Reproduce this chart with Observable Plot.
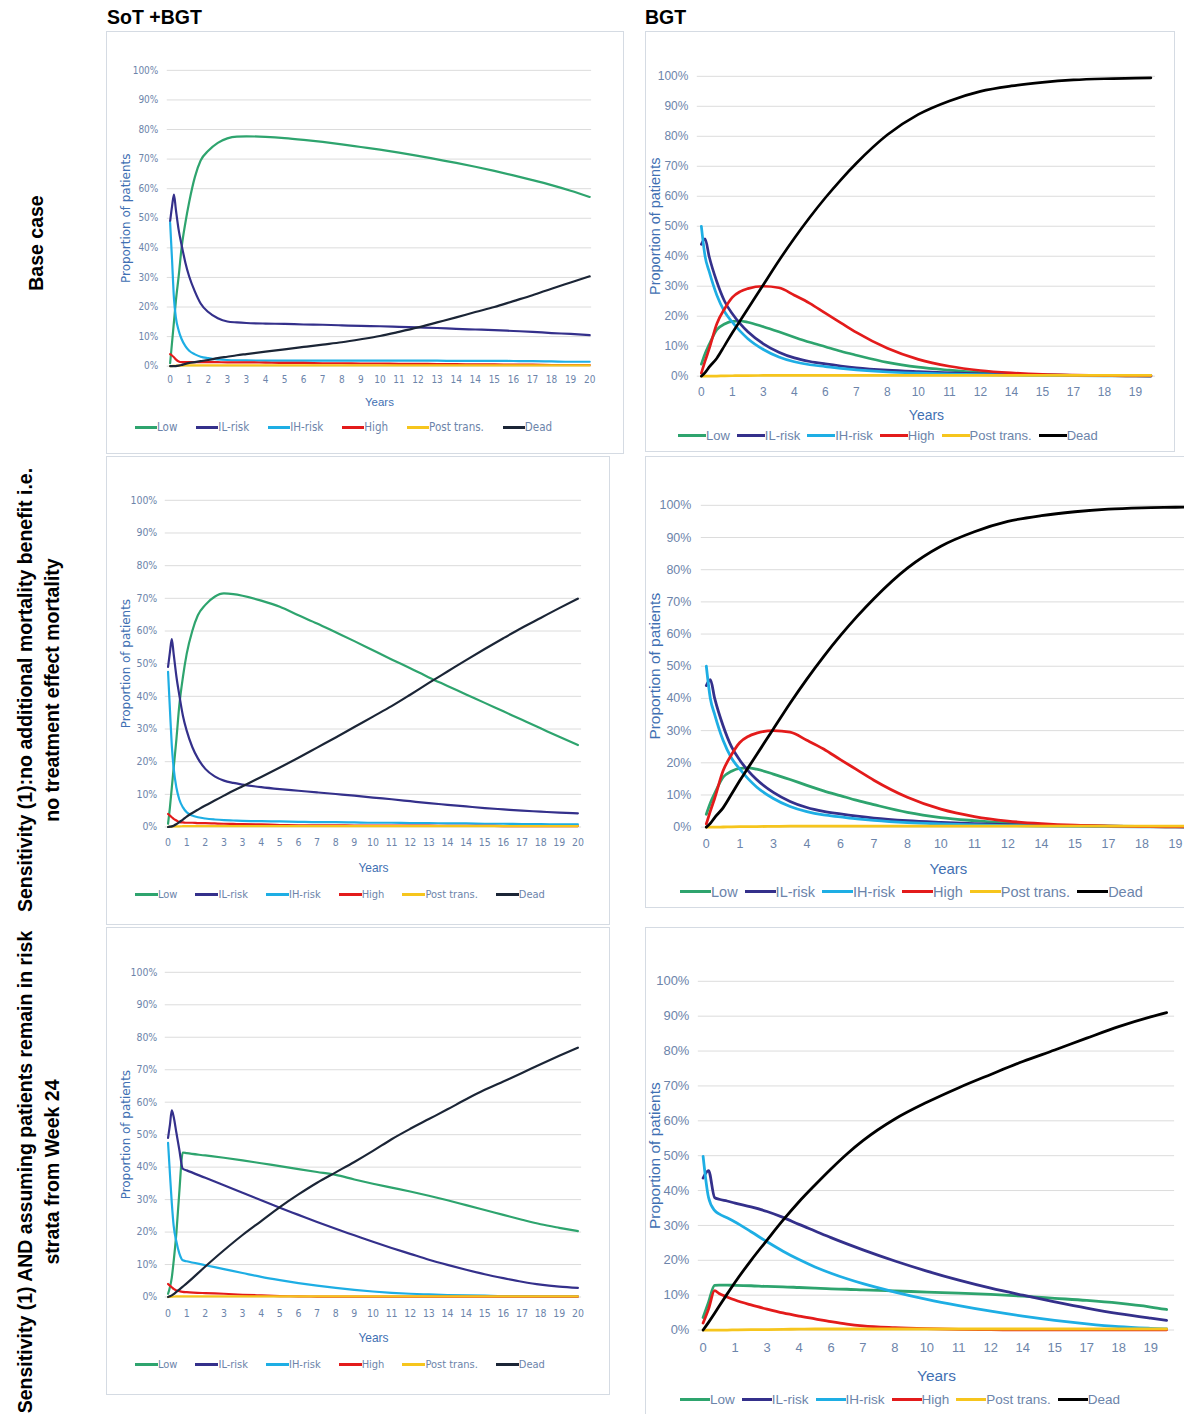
<!DOCTYPE html>
<html>
<head>
<meta charset="utf-8">
<script src="https://cdn.jsdelivr.net/npm/d3@7"></script>
<script src="https://cdn.jsdelivr.net/npm/@observablehq/plot@0.6"></script>
<style>
  html, body { margin: 0; padding: 0; background: #fff; }
  body { width: 1184px; height: 1414px; position: relative; overflow: hidden; font-family: "Liberation Sans", Arial, sans-serif; }
  .box { position: absolute; border: 1px solid #d5dbe3; background: #fff; box-sizing: border-box; }
  .box svg { position: absolute; left: -1px; top: -1px; overflow: visible; }
  .hdr { position: absolute; font-weight: bold; font-size: 19.5px; color: #000; white-space: nowrap; }
  .row { position: absolute; font-weight: bold; font-size: 19.5px; line-height: 27px; color: #000; text-align: center; white-space: nowrap; transform: translate(-50%, -50%) rotate(-90deg); }
  .legend { position: absolute; display: flex; align-items: center; white-space: nowrap; }
  .legend .it { display: flex; align-items: center; }
  .legend .sw { display: inline-block; height: 3px; }
</style>
</head>
<body>
<script>
// ---------------- data ----------------
const seriesNames = ["Low", "IL-risk", "IH-risk", "High", "Post trans.", "Dead"];
const yTicks = [0, 10, 20, 30, 40, 50, 60, 70, 80, 90, 100];
const sotTickLabels = ["0","1","2","3","3","4","5","6","7","8","9","10","11","12","13","14","14","15","16","17","18","19","20"];
const bgtTickLabels = ["0","1","3","4","6","7","8","10","11","12","14","15","17","18","19"];

// x positions are in tick-label slots of the category axis
// --- Base case, SoT + BGT ---
const baseSotX    = [0,0.1,0.2,0.3,0.45,0.6,0.8,1,1.3,1.6,2,2.5,3,3.5,4,5,6,7,8,9,10,11,12,13,14,15,16,17,18,19,20,21,22];
const baseSotLow  = [1,8,15,22,30.5,40,48.5,55.5,64,69.5,72.8,75.5,77,77.6,77.7,77.5,77.1,76.5,75.8,75,74.1,73.2,72.2,71.1,69.9,68.7,67.4,66,64.5,62.9,61.2,59.3,57.2];
const baseSotIL   = [49,54,58,53,46,41,35,30.3,25.2,21.2,18.3,16.2,15.1,14.8,14.6,14.4,14.3,14.1,14,13.8,13.6,13.5,13.3,13.1,12.9,12.6,12.4,12.2,11.9,11.6,11.2,10.9,10.5];
const baseSotIH   = [48.5,36,23,16.5,12,9.2,6.8,5.2,4,3.2,2.7,2.3,2.1,2,1.95,1.9,1.9,1.9,1.9,1.9,1.9,1.9,1.9,1.85,1.85,1.8,1.8,1.8,1.75,1.7,1.6,1.5,1.5];
const baseSotHigh = [4.1,3.6,3,2.3,1.6,1.4,1.4,1.4,1.4,1.4,1.4,1.35,1.3,1.3,1.3,1.2,1.1,1.1,1,1,0.9,0.9,0.8,0.8,0.7,0.7,0.6,0.6,0.5,0.5,0.4,0.4,0.4];
const baseSotPost = [0,0.05,0.1,0.15,0.2,0.2,0.25,0.3,0.3,0.3,0.3,0.3,0.3,0.3,0.3,0.3,0.3,0.3,0.3,0.3,0.3,0.3,0.3,0.3,0.3,0.3,0.3,0.3,0.3,0.3,0.3,0.3,0.3];
const baseSotDead = [0,0,0,0.05,0.2,0.4,0.8,1.1,1.4,1.7,2.1,2.7,3.2,3.7,4.1,4.9,5.7,6.5,7.3,8.1,9.1,10.2,11.6,13.1,14.8,16.5,18.3,20,22,24,26.2,28.3,30.4];

// --- Sensitivity (1), SoT + BGT ---
const sens1SotX    = [0,0.1,0.2,0.3,0.45,0.6,0.8,1,1.3,1.6,2,2.5,3,3.5,4,5,6,7,8,9,10,11,12,13,14,15,16,17,18,19,20,21,22];
const sens1SotLow  = [1,6,12,18,27,37,46,53,60,64.8,68,70.5,71.5,71.3,70.8,69.3,67.4,64.8,62.3,59.6,56.9,54.1,51.3,48.6,45.8,43.2,40.6,38,35.4,32.8,30.2,27.6,25.1];
const sens1SotIL   = [49,53.5,57.5,53,46,40.5,34,29.5,24.5,21,17.8,15.5,14.2,13.5,13,12.2,11.6,11.1,10.6,10.1,9.6,9,8.5,7.9,7.3,6.8,6.3,5.8,5.4,5,4.7,4.4,4.2];
const sens1SotIH   = [47.5,36,25,18,12,8.5,6,4.5,3.5,3,2.6,2.3,2.1,2,1.9,1.8,1.7,1.6,1.5,1.5,1.4,1.3,1.3,1.2,1.2,1.1,1.1,1,1,0.9,0.9,0.8,0.8];
const sens1SotHigh = [4,3.5,3,2.5,2,1.5,1.4,1.3,1.3,1.2,1.2,1.1,1,0.95,0.9,0.8,0.6,0.55,0.5,0.5,0.45,0.45,0.4,0.4,0.4,0.35,0.35,0.35,0.3,0.3,0.3,0.3,0.3];
const sens1SotPost = [0,0.05,0.1,0.15,0.2,0.2,0.25,0.3,0.3,0.3,0.3,0.3,0.3,0.3,0.3,0.3,0.3,0.3,0.3,0.3,0.3,0.3,0.3,0.3,0.3,0.3,0.3,0.3,0.3,0.3,0.3,0.3,0.3];
const sens1SotDead = [0,0.1,0.2,0.4,0.9,1.5,2.3,3.2,4.3,5.3,6.6,8.1,9.6,11.1,12.5,15.3,18.2,21.2,24.3,27.4,30.6,33.8,37,40.5,44.1,47.6,51.1,54.5,57.8,61,64,67,69.9];

// --- Sensitivity (1) AND remain in strata, SoT + BGT ---
const sens2SotX    = [0,0.1,0.2,0.3,0.45,0.6,0.79,1,2,3,4,5,6,7,8,9,10,11,12,13,14,15,16,17,18,19,20,21,22];
const sens2SotLow  = [1,3,6,11,20,32,44.5,44.3,43.6,42.9,42.1,41.2,40.3,39.4,38.5,37.6,36.2,34.9,33.7,32.5,31.2,29.8,28.3,26.8,25.3,23.8,22.4,21.3,20.3];
const sens2SotIL   = [49,53,57.5,55.5,50.5,45.5,39.5,39,36.7,34.4,32.1,29.8,27.5,25.3,23.1,21,19,17,15.1,13.3,11.5,9.9,8.4,7,5.8,4.7,3.8,3.2,2.8];
const sens2SotIH   = [47.5,38,29,22,17,13.5,11.3,11,9.8,8.6,7.4,6.2,5.2,4.3,3.5,2.8,2.2,1.7,1.3,1,0.8,0.6,0.5,0.4,0.3,0.3,0.2,0.2,0.2];
const sens2SotHigh = [4,3.5,3,2.5,2,1.8,1.6,1.5,1.2,1,0.7,0.5,0.3,0.2,0.15,0.1,0.1,0.1,0.1,0.1,0.1,0.1,0.1,0.1,0.1,0.1,0.1,0.1,0.1];
const sens2SotPost = [0,0.05,0.1,0.15,0.2,0.2,0.2,0.2,0.2,0.2,0.2,0.2,0.2,0.2,0.2,0.2,0.2,0.2,0.2,0.2,0.2,0.2,0.2,0.2,0.2,0.2,0.2,0.2,0.2];
const sens2SotDead = [0,0.2,0.5,0.9,1.6,2.3,3.2,4.2,9.4,14.4,19.1,23.4,27.7,31.6,35.2,38.4,41.6,45,48.6,51.8,54.8,57.8,60.9,63.8,66.4,69,71.7,74.3,76.8];

// --- Base case BGT (Sensitivity (1) BGT shows the same curves) ---
const baseBgtX    = [0,0.12,0.25,0.5,0.75,1,1.25,1.5,2,2.5,3,3.5,4,4.5,5,6,7,8,9,10,11,12,13,14,14.5];
const baseBgtLow  = [4,7.5,10.5,15.5,17.4,18.3,18.4,18,16.5,14.8,13,11.3,9.8,8.3,7,4.6,3,2,1.2,0.7,0.45,0.3,0.2,0.1,0.1];
const baseBgtIL   = [44,45.8,40,31.5,25,20.8,17.5,14.8,10.8,8,6.1,4.9,4.1,3.4,2.8,2,1.5,1.1,0.8,0.55,0.4,0.3,0.2,0.15,0.1];
const baseBgtIH   = [50,40,35,27,21.5,18,15,12.5,8.9,6.4,4.8,3.8,3.2,2.6,2.1,1.4,1,0.7,0.5,0.35,0.25,0.15,0.1,0.1,0.05];
const baseBgtHigh = [1,5,9,17.5,22.5,26.3,28.2,29.2,30,29.5,27,24.3,21,17.8,14.6,9.3,5.6,3.3,1.9,1.1,0.6,0.35,0.2,0.1,0.1];
const baseBgtPost = [0,0,0,0.05,0.1,0.15,0.2,0.2,0.25,0.3,0.3,0.3,0.3,0.3,0.3,0.3,0.3,0.3,0.3,0.3,0.3,0.3,0.3,0.3,0.3];
const baseBgtDead = [0,1.2,3,6,10.2,14.5,18.5,22.5,30.5,38.5,46,53,59.5,65.5,71,80.5,87.3,91.8,95,96.8,98,98.8,99.2,99.4,99.5];

// --- Sensitivity (1) AND remain in strata, BGT ---
const sens2BgtX    = [0,0.17,0.36,0.5,0.75,1,1.5,2,2.5,3,3.5,4,4.5,5,6,7,8,9,10,11,12,13,14,14.5];
const sens2BgtLow  = [3.6,8,12.8,12.9,12.9,12.8,12.7,12.5,12.4,12.2,12,11.8,11.7,11.5,11.2,10.9,10.6,10.2,9.7,9.1,8.5,7.7,6.6,5.9];
const sens2BgtIL   = [43.6,45.7,38,37.5,37,36.4,35.3,34,32.3,30.3,28.4,26.5,24.7,23,19.8,16.9,14.3,12,10,8.1,6.3,4.7,3.4,2.8];
const sens2BgtIH   = [49.8,38,34.3,33.3,32.2,31,28.2,25.3,22.6,20.2,18.1,16.3,14.7,13.3,10.9,8.8,7,5.4,4,2.8,1.8,1,0.5,0.3];
const sens2BgtHigh = [2,6,11.3,10.5,9.5,8.6,7.2,6,4.9,4,3.2,2.4,1.7,1.2,0.7,0.4,0.2,0.1,0.05,0.05,0.05,0.05,0.05,0.05];
const sens2BgtPost = [0,0,0,0,0,0.05,0.1,0.15,0.2,0.25,0.3,0.3,0.3,0.3,0.3,0.3,0.3,0.3,0.3,0.3,0.3,0.3,0.3,0.3];
const sens2BgtDead = [0,2.2,4.8,6.8,10.3,13.7,20,25.8,31.5,36.8,41.6,46.2,50.5,54.3,60.5,65.3,69.5,73.3,77,80.3,83.7,87,89.8,91];

const columnHeaders = ["SoT +BGT", "BGT"];
const rowHeaders = [
  ["Base case"],
  ["Sensitivity (1):no additional mortality benefit i.e.", "no treatment effect mortality"],
  ["Sensitivity (1) AND assuming patients remain in risk", "strata from Week 24"]
];

// ---------------- styles ----------------
const sotColors = ["#2ea46e", "#34308b", "#1eaee4", "#e31b1b", "#f6c51d", "#1b2536"];
const bgtColors = ["#2ea46e", "#34308b", "#1eaee4", "#e31b1b", "#f6c51d", "#000000"];
const tickColor = "#6c84aa";
const titleColor = "#3f70b3";
const narrowFont = '"Liberation Sans Narrow", "DejaVu Sans Condensed", "Liberation Sans", sans-serif';
const wideFont = '"Liberation Sans", Arial, sans-serif';
const dejaFont = '"DejaVu Sans", "Liberation Sans", sans-serif';

const panels = [
  { box: [106, 31, 518, 423], h: 381, mt: 39, mb: 45, ml: 61, mr: 31, xDomain: [-0.15, 22.1],
    x: baseSotX, vals: [baseSotLow, baseSotIL, baseSotIH, baseSotHigh, baseSotPost, baseSotDead],
    labels: sotTickLabels, colors: sotColors, font: narrowFont, tickFs: 10, xtp: 10, ytp: 9,
    titleFs: 11.5, yearsOff: 40, ylabFs: 12, ylabFont: dejaFont, ylabOff: 46, sw: 2.2,
    legend: { x: 135, y: 427, fs: 11.5, sw: 22, gap: 19, font: narrowFont } },
  { box: [645, 31, 530, 421], h: 394, mt: 45, mb: 48, ml: 52, mr: 18, xDomain: [-0.13, 14.65],
    x: baseBgtX, vals: [baseBgtLow, baseBgtIL, baseBgtIH, baseBgtHigh, baseBgtPost, baseBgtDead],
    labels: bgtTickLabels, colors: bgtColors, font: wideFont, tickFs: 12, xtp: 11, ytp: 9,
    titleFs: 14, yearsOff: 44, ylabFs: 14.5, ylabFont: wideFont, ylabOff: 48, sw: 2.7,
    legend: { x: 678, y: 436, fs: 13, sw: 28, gap: 7, font: wideFont } },
  { box: [106, 456, 504, 469], h: 424, mt: 44, mb: 52, ml: 59, mr: 27, xDomain: [-0.15, 22.2],
    x: sens1SotX, vals: [sens1SotLow, sens1SotIL, sens1SotIH, sens1SotHigh, sens1SotPost, sens1SotDead],
    labels: sotTickLabels, colors: sotColors, font: narrowFont, tickFs: 10.5, xtp: 12, ytp: 8,
    titleFs: 12, yearsOff: 45, ylabFs: 12, ylabFont: dejaFont, ylabOff: 44, sw: 2.2,
    legend: { x: 135, y: 895, fs: 11, sw: 23, gap: 18, font: narrowFont } },
  { box: [645, 456, 560, 452], h: 424, mt: 49, mb: 52, ml: 56, mr: 8, xDomain: [-0.15, 14.6],
    x: baseBgtX, vals: [baseBgtLow, baseBgtIL, baseBgtIH, baseBgtHigh, baseBgtPost, baseBgtDead],
    labels: bgtTickLabels, colors: bgtColors, font: wideFont, tickFs: 12.5, xtp: 12, ytp: 10,
    titleFs: 15, yearsOff: 47, ylabFs: 15.5, ylabFont: wideFont, ylabOff: 52, sw: 2.8,
    legend: { x: 680, y: 892, fs: 14.5, sw: 31, gap: 7, font: wideFont } },
  { box: [106, 927, 504, 468], h: 423, mt: 45, mb: 52, ml: 59, mr: 27, xDomain: [-0.15, 22.2],
    x: sens2SotX, vals: [sens2SotLow, sens2SotIL, sens2SotIH, sens2SotHigh, sens2SotPost, sens2SotDead],
    labels: sotTickLabels, colors: sotColors, font: narrowFont, tickFs: 10.5, xtp: 13, ytp: 8,
    titleFs: 12, yearsOff: 45, ylabFs: 12, ylabFont: dejaFont, ylabOff: 44, sw: 2.2,
    legend: { x: 135, y: 1365, fs: 11, sw: 23, gap: 18, font: narrowFont } },
  { box: [645, 927, 560, 500], h: 461, mt: 54, mb: 57, ml: 53, mr: 29, xDomain: [-0.15, 14.75],
    x: sens2BgtX, vals: [sens2BgtLow, sens2BgtIL, sens2BgtIH, sens2BgtHigh, sens2BgtPost, sens2BgtDead],
    labels: bgtTickLabels, colors: bgtColors, font: wideFont, tickFs: 13, xtp: 13, ytp: 9,
    titleFs: 15.5, yearsOff: 51, ylabFs: 15.5, ylabFont: wideFont, ylabOff: 49, sw: 2.8,
    legend: { x: 680, y: 1400, fs: 13.5, sw: 30, gap: 7, font: wideFont } }
];

// ---------------- drawing ----------------
function addDiv(cls, css, html) {
  const d = document.createElement("div");
  d.className = cls;
  Object.assign(d.style, css);
  if (html != null) d.innerHTML = html;
  document.body.appendChild(d);
  return d;
}

panels.forEach(p => {
  const [bx, by, bw, bh] = p.box;
  const box = addDiv("box", { left: bx + "px", top: by + "px", width: bw + "px", height: bh + "px" });
  const rows = [];
  seriesNames.forEach((name, si) => p.vals[si].forEach((v, i) => rows.push({ x: p.x[i], y: v, s: name })));
  const ticks = d3.range(p.labels.length);
  const svg = Plot.plot({
    width: bw, height: p.h,
    marginLeft: p.ml, marginRight: p.mr, marginTop: p.mt, marginBottom: p.mb,
    style: { fontFamily: p.font, background: "transparent", overflow: "visible" },
    x: { domain: p.xDomain },
    y: { domain: [0, 100] },
    color: { domain: seriesNames, range: p.colors },
    marks: [
      Plot.ruleY(yTicks, { stroke: "#dcdcdc", strokeWidth: 1 }),
      Plot.line(rows, { x: "x", y: "y", z: "s", stroke: "s", strokeWidth: p.sw, curve: "monotone-x",
        strokeLinejoin: "round", strokeLinecap: "round" }),
      Plot.axisX(ticks, { tickSize: 0, tickPadding: p.xtp, tickFormat: i => p.labels[i],
        fontSize: p.tickFs, fill: tickColor, label: null }),
      Plot.axisX(ticks, { tickSize: 0, tickFormat: () => "", label: "Years", labelAnchor: "center",
        labelArrow: "none", labelOffset: p.yearsOff, fontSize: p.titleFs, fill: titleColor,
        fontFamily: wideFont }),
      Plot.axisY(yTicks, { tickSize: 0, tickPadding: p.ytp, tickFormat: d => d + "%",
        fontSize: p.tickFs, fill: tickColor, label: null }),
      Plot.axisY(yTicks, { tickSize: 0, tickFormat: () => "", label: "Proportion of patients",
        labelAnchor: "center", labelArrow: "none", labelOffset: p.ylabOff, fontSize: p.ylabFs,
        fill: titleColor, fontFamily: p.ylabFont })
    ]
  });
  box.appendChild(svg);

  const L = p.legend;
  const lg = addDiv("legend", { left: L.x + "px", top: (L.y - L.fs * 0.6) + "px", height: (L.fs * 1.2) + "px",
    fontFamily: L.font, fontSize: L.fs + "px", color: tickColor, gap: L.gap + "px" });
  seriesNames.forEach((name, i) => {
    const it = document.createElement("span");
    it.className = "it";
    it.innerHTML = `<span class="sw" style="width:${L.sw}px;background:${p.colors[i]}"></span><span>${name}</span>`;
    lg.appendChild(it);
  });
});

addDiv("hdr", { left: "107px", top: "6px" }, columnHeaders[0]);
addDiv("hdr", { left: "645px", top: "6px" }, columnHeaders[1]);

const rowCenters = [[36, 243], [38.5, 690], [38.5, 1172]];
rowHeaders.forEach((lines, i) => {
  addDiv("row", { left: rowCenters[i][0] + "px", top: rowCenters[i][1] + "px" }, lines.join("<br>"));
});
</script>
</body>
</html>
